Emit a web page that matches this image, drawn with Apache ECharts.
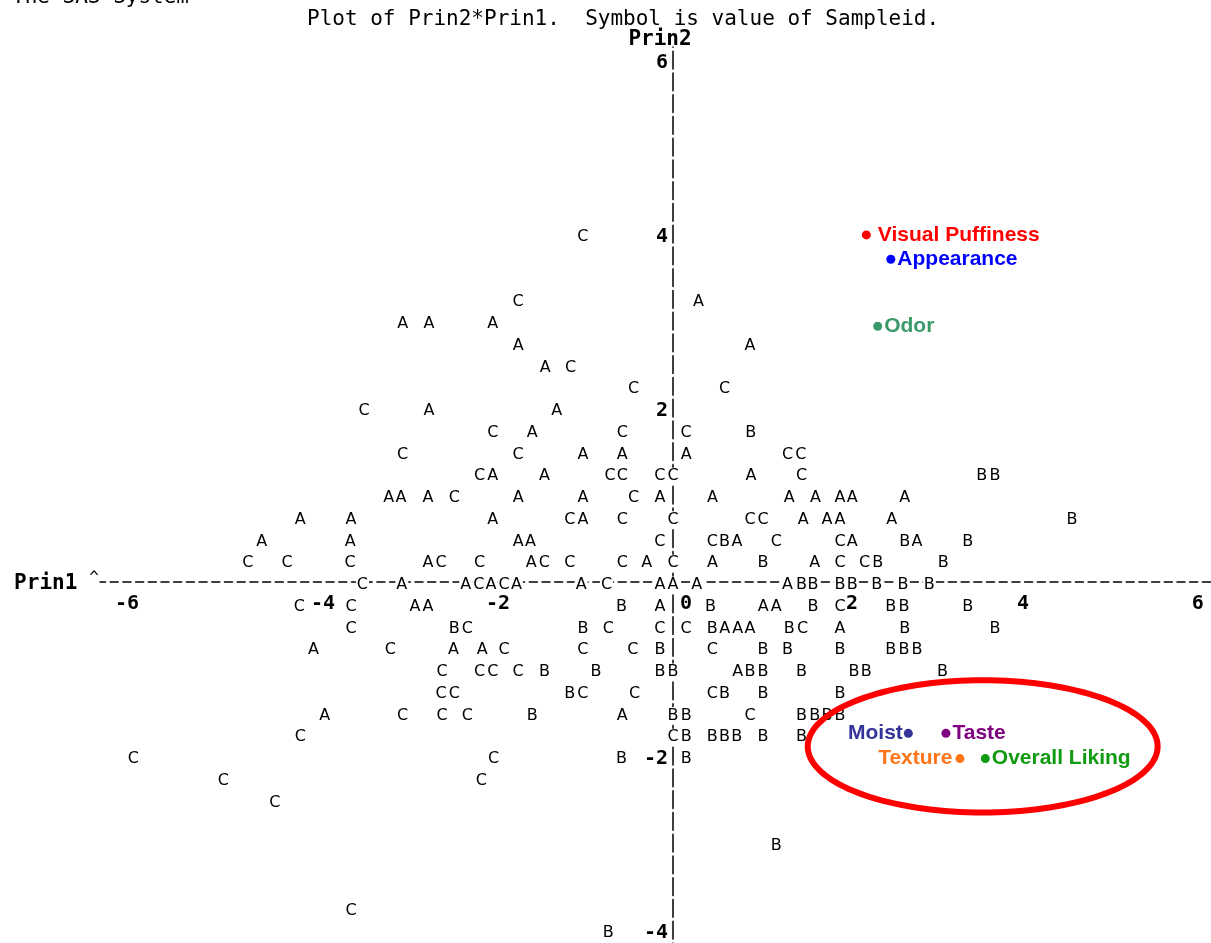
<!DOCTYPE html>
<html><head><meta charset="utf-8">
<script src="https://cdn.jsdelivr.net/npm/echarts@6/dist/echarts.min.js"></script>
<style>html,body{margin:0;padding:0;background:#fff}#c{width:1211px;height:943px}</style>
</head><body><div id="c"></div>
<script>
// ---- tick labels ----
const xTicks = [-6, -4, -2, 0, 2, 4, 6];
const yTicks = [-4, -2, 2, 4, 6];

// ---- observations, Sampleid A / B / C  [Prin1, Prin2] ----
const pointsA = [
  [0.29,3.25],
  [-3.09,3],[-2.79,3],[-2.06,3],
  [-1.77,2.75],[0.88,2.75],
  [-1.46,2.5],
  [-2.79,2],[-1.33,2],
  [-1.61,1.75],
  [-1.03,1.5],[-0.58,1.5],[0.15,1.5],
  [-2.06,1.25],[-1.47,1.25],[0.89,1.25],
  [-3.25,1],[-3.11,1],[-2.80,1],[-1.77,1],[-1.03,1],[-0.15,1],[0.45,1],[1.33,1],[1.63,1],[1.91,1],[2.05,1],[2.65,1],
  [-4.26,0.75],[-3.68,0.75],[-2.06,0.75],[-1.03,0.75],[1.49,0.75],[1.76,0.75],[1.91,0.75],[2.50,0.75],
  [-4.70,0.5],[-3.69,0.5],[-1.77,0.5],[-1.63,0.5],[0.73,0.5],[2.05,0.5],[2.79,0.5],
  [-2.80,0.25],[-1.62,0.25],[-0.30,0.25],[0.45,0.25],[1.62,0.25],
  [-3.10,0],[-2.37,0],[-2.08,0],[-1.79,0],[-1.05,0],[-0.15,0],[0,0],[0.27,0],[1.31,0],
  [-2.95,-0.25],[-2.80,-0.25],[-0.15,-0.25],[1.03,-0.25],[1.18,-0.25],
  [0.59,-0.5],[0.74,-0.5],[0.88,-0.5],[1.91,-0.5],
  [-4.11,-0.75],[-2.51,-0.75],[-2.18,-0.75],
  [0.74,-1],
  [-3.98,-1.5],[-0.58,-1.5]
];
const pointsB = [
  [0.89,1.75],
  [3.53,1.25],[3.68,1.25],
  [4.56,0.75],
  [0.59,0.5],[2.65,0.5],[3.37,0.5],
  [1.03,0.25],[2.34,0.25],[3.09,0.25],
  [1.47,0],[1.60,0],[1.91,0],[2.05,0],[2.33,0],[2.63,0],[2.93,0],
  [-0.59,-0.25],[0.43,-0.25],[1.60,-0.25],[2.49,-0.25],[2.64,-0.25],[3.37,-0.25],
  [-2.50,-0.5],[-1.03,-0.5],[0.45,-0.5],[1.33,-0.5],[2.65,-0.5],[3.68,-0.5],
  [-0.15,-0.75],[1.03,-0.75],[1.31,-0.75],[1.91,-0.75],[2.49,-0.75],[2.64,-0.75],[2.79,-0.75],
  [-1.47,-1],[-0.88,-1],[-0.15,-1],[0,-1],[0.88,-1],[1.03,-1],[1.47,-1],[2.07,-1],[2.21,-1],[3.08,-1],
  [-1.18,-1.25],[0.59,-1.25],[1.03,-1.25],[1.91,-1.25],
  [-1.61,-1.5],[0,-1.5],[0.15,-1.5],[1.47,-1.5],[1.62,-1.5],[1.76,-1.5],[1.91,-1.5],
  [0.15,-1.75],[0.45,-1.75],[0.59,-1.75],[0.73,-1.75],[1.03,-1.75],[1.47,-1.75],
  [-0.59,-2],[0.15,-2],
  [1.18,-3],
  [-0.74,-4]
];
const pointsC = [
  [-1.03,4],
  [-1.77,3.25],
  [-1.17,2.5],
  [-0.45,2.25],[0.59,2.25],
  [-3.53,2],
  [-2.06,1.75],[-0.58,1.75],[0.15,1.75],
  [-3.09,1.5],[-1.77,1.5],[1.31,1.5],[1.46,1.5],
  [-2.21,1.25],[-0.72,1.25],[-0.58,1.25],[-0.15,1.25],[0,1.25],[1.47,1.25],
  [-2.50,1],[-0.45,1],
  [-1.18,0.75],[-0.58,0.75],[0,0.75],[0.88,0.75],[1.03,0.75],
  [-0.15,0.5],[0.45,0.5],[1.18,0.5],[1.91,0.5],
  [-4.86,0.25],[-4.41,0.25],[-3.69,0.25],[-2.65,0.25],[-2.21,0.25],[-1.47,0.25],[-1.18,0.25],[-0.58,0.25],[0,0.25],[1.91,0.25],[2.19,0.25],
  [-3.55,0],[-2.22,0],[-1.93,0],[-0.76,0],
  [-4.27,-0.25],[-3.68,-0.25],[1.91,-0.25],
  [-3.68,-0.5],[-2.35,-0.5],[-0.74,-0.5],[-0.15,-0.5],[0.15,-0.5],[1.48,-0.5],
  [-3.23,-0.75],[-1.93,-0.75],[-1.03,-0.75],[-0.46,-0.75],[0.45,-0.75],
  [-2.64,-1],[-2.21,-1],[-2.06,-1],[-1.77,-1],
  [-2.65,-1.25],[-2.50,-1.25],[-1.03,-1.25],[-0.44,-1.25],[0.45,-1.25],
  [-3.09,-1.5],[-2.64,-1.5],[-2.35,-1.5],[0.88,-1.5],
  [-4.26,-1.75],[0,-1.75],
  [-6.17,-2],[-2.05,-2],
  [-5.14,-2.25],[-2.19,-2.25],
  [-4.55,-2.5],
  [-3.68,-3.75]
];

// ---- attribute points ----
const attrNames = ['Visual Puffiness','Appearance','Odor','Moist','Taste','Texture','Overall Liking'];
const attrX = [2.21, 2.49, 2.34, 2.69, 3.12, 3.28, 3.57];
const attrY = [3.99, 3.71, 2.94, -1.74, -1.74, -2.03, -2.03];

// ---- highlight ellipse (center, radii in data units) ----
const ellipseCenter = [3.54, -1.89];
const ellipseRadii = [2.0, 0.76];

// ---- styles / layout ----
const attrStyle = {
  'Visual Puffiness': {color:'#ff0000', side:'right', gap:7},
  'Appearance':       {color:'#0000ff', side:'right', gap:2},
  'Odor':             {color:'#3a9a6a', side:'right', gap:2},
  'Moist':            {color:'#333399', side:'left',  gap:1},
  'Taste':            {color:'#800080', side:'right', gap:2},
  'Texture':          {color:'#ff7518', side:'left',  gap:3},
  'Overall Liking':   {color:'#109a10', side:'right', gap:2}
};
const MONO = 'DejaVu Sans Mono';
const GRID = {left: 100, right: 0, top: 47, bottom: 0};
const W = 1211, H = 943;
const X_RANGE = [-6.55, 6.15], Y_RANGE = [-4.15, 6.15];
const gridW = W - GRID.left - GRID.right, gridH = H - GRID.top - GRID.bottom;
// move the axes onto the zero lines (axis offsets, inward is negative)
const xAxisOffset = -((0 - Y_RANGE[0]) / (Y_RANGE[1] - Y_RANGE[0]) * gridH);
const yAxisOffset = -((0 - X_RANGE[0]) / (X_RANGE[1] - X_RANGE[0]) * gridW);
const boldMono = {fontFamily: MONO, fontWeight: 'bold', fontSize: 20, color: '#000'};

function letterSeries(letter, pts) {
  return {
    type: 'scatter', name: letter, data: pts,
    symbol: 'circle', symbolSize: 1, silent: true, z: 3,
    itemStyle: {color: 'rgba(0,0,0,0)', opacity: 1},
    label: {show: true, position: 'inside', formatter: letter, color: '#000', opacity: 1,
      offset: [0, 3],
      fontFamily: 'DejaVu Sans', fontSize: 16, backgroundColor: '#fff', padding: [1, 1, 0, 1]},
    emphasis: {disabled: true}
  };
}

const chart = echarts.init(document.getElementById('c'));
chart.setOption({
  animation: false,
  backgroundColor: '#fff',
  title: [
    {text: 'Plot of Prin2*Prin1.  Symbol is value of Sampleid.', left: 307, top: 9, padding: 0,
     textStyle: {fontFamily: MONO, fontWeight: 'normal', fontSize: 21, color: '#000'}},
    {text: 'The SAS System', left: 12, top: -13, padding: 0,
     textStyle: {fontFamily: MONO, fontWeight: 'normal', fontSize: 21, color: '#000'}}
  ],
  grid: Object.assign({containLabel: false, outerBoundsMode: 'none'}, GRID),
  xAxis: {
    type: 'value', min: X_RANGE[0], max: X_RANGE[1],
    position: 'bottom', offset: xAxisOffset,
    axisLine: {onZero: false, lineStyle: {color: '#000', width: 1.5, type: [8, 4.7], dashOffset: 2.5}},
    axisTick: {show: false}, splitLine: {show: false},
    axisLabel: {
      customValues: xTicks, margin: 12, color: '#000',
      fontFamily: MONO, fontWeight: 'bold', fontSize: 20,
      formatter: v => v === 0 ? '{z|0}' : (v === -6 ? '{m|-6}' : (v === 2 ? '{t|2}' : '{d|' + v + '}')),
      rich: {
        z: Object.assign({padding: [0, 0, 0, 26]}, boldMono),
        t: Object.assign({padding: [0, 0, 0, 8]}, boldMono),
        m: Object.assign({padding: [0, 42, 0, 0]}, boldMono),
        d: Object.assign({}, boldMono)
      }
    },
    name: '{b|Prin1} {c|^}', nameLocation: 'start', nameGap: 1,
    nameTextStyle: {
      fontFamily: MONO, fontSize: 20, color: '#000',
      rich: {
        b: {fontFamily: MONO, fontWeight: 'bold', fontSize: 21, color: '#000', padding: [4, 0, 0, 0]},
        c: {fontFamily: MONO, fontWeight: 'normal', fontSize: 16, color: '#000', verticalAlign: 'top', padding: [0, 0, 6, 0]}
      }
    }
  },
  yAxis: {
    type: 'value', min: Y_RANGE[0], max: Y_RANGE[1],
    position: 'left', offset: yAxisOffset,
    axisLine: {onZero: false, lineStyle: {color: '#000', width: 1.5, type: [17.75, 4], dashOffset: 17.65}},
    axisTick: {show: false}, splitLine: {show: false},
    axisLabel: {customValues: yTicks, margin: 5, color: '#000',
      fontFamily: MONO, fontWeight: 'bold', fontSize: 20,
      formatter: v => '{v|' + v + '}',
      rich: {v: Object.assign({padding: [6, 0, 0, 0]}, boldMono)}
    },
    name: 'Prin2', nameLocation: 'end', nameGap: 7,
    nameTextStyle: {fontFamily: MONO, fontWeight: 'bold', fontSize: 21, color: '#000',
      verticalAlign: 'middle', padding: [0, 26, 0, 0]}
  },
  series: [
    letterSeries('A', pointsA),
    letterSeries('B', pointsB),
    letterSeries('C', pointsC),
    {
      type: 'scatter', z: 4, silent: true, symbol: 'circle', symbolSize: 9,
      data: attrNames.map((n, i) => ({
        name: n, value: [attrX[i], attrY[i]],
        itemStyle: {color: attrStyle[n].color, opacity: 1},
        label: {position: attrStyle[n].side, distance: attrStyle[n].gap, color: attrStyle[n].color}
      })),
      itemStyle: {opacity: 1},
      label: {show: true, formatter: '{b}', opacity: 1, fontFamily: 'Liberation Sans', fontWeight: 'bold', fontSize: 21},
      emphasis: {disabled: true}
    },
    {
      type: 'custom', z: 5, silent: true,
      data: [[ellipseCenter[0], ellipseCenter[1], ellipseRadii[0], ellipseRadii[1]]],
      renderItem: (params, api) => {
        const c = api.coord([api.value(0), api.value(1)]);
        const s = api.size([api.value(2), api.value(3)]);
        const pts = [];
        for (let i = 0; i < 144; i++) {
          const t = i / 144 * 2 * Math.PI;
          pts.push([c[0] + s[0] * Math.cos(t), c[1] + s[1] * Math.sin(t)]);
        }
        return {type: 'polygon', shape: {points: pts}, style: {fill: 'none', stroke: '#ff0000', lineWidth: 6}};
      }
    }
  ]
});
</script>
</body></html>
